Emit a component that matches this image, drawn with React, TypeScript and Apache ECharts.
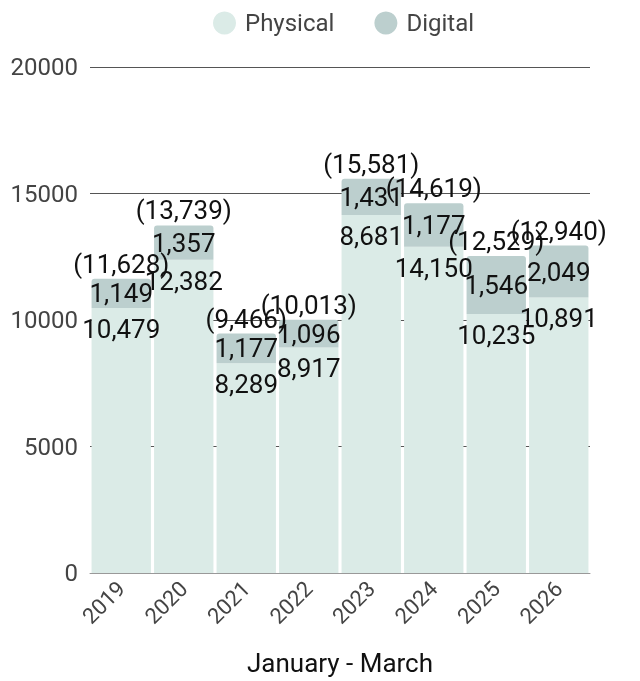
import React, { useEffect, useRef } from "react";
import * as echarts from "echarts";

const years = ["2019", "2020", "2021", "2022", "2023", "2024", "2025", "2026"];
const physical = [10479, 12382, 8289, 8917, 14150, 12900, 10235, 10891];
const digital = [1149, 1357, 1177, 1096, 1431, 1719, 2294, 2049];
const physicalLabels = ["10,479", "12,382", "8,289", "8,917", "8,681", "14,150", "10,235", "10,891"];
const digitalLabels = ["1,149", "1,357", "1,177", "1,096", "1,431", "1,177", "1,546", "2,049"];
const yTicks = { min: 0, max: 20000, interval: 5000 };

const fmt = (n: number) => n.toLocaleString("en-US");

export default function App() {
  const ref = useRef<HTMLDivElement>(null);
  useEffect(() => {
    if (!ref.current) return;
    const chart = echarts.init(ref.current, undefined, { renderer: "svg" });
    const totals = physical.map((p, i) => p + digital[i]);
    const font = "Roboto, sans-serif";
    chart.setOption({
      animation: false,
      textStyle: { fontFamily: font },
      legend: {
        data: ["Physical", "Digital"],
        top: 6,
        left: 208,
        icon: "circle",
        itemWidth: 23,
        itemHeight: 23,
        itemGap: 40,
        textStyle: { fontSize: 24, color: "#444", fontFamily: font, padding: [0, 0, 0, 4] },
      },
      grid: { left: 90, right: 50, top: 67, bottom: 94, containLabel: false },
      xAxis: {
        type: "category",
        data: years,
        name: "January - March",
        nameLocation: "middle",
        nameGap: 77,
        nameTextStyle: { fontSize: 26, color: "#111", fontFamily: font },
        axisTick: { show: false },
        axisLine: { show: true, lineStyle: { color: "#999", width: 1 } },
        axisLabel: { rotate: 45, fontSize: 22, color: "#444", margin: 12, fontFamily: font },
      },
      yAxis: {
        type: "value",
        min: yTicks.min,
        max: yTicks.max,
        interval: yTicks.interval,
        axisLine: { show: false },
        axisTick: { show: false },
        axisLabel: {
          fontSize: 24,
          color: "#444",
          margin: 12,
          fontFamily: font,
          formatter: (v: number) => String(v),
        },
        splitLine: { show: true, lineStyle: { color: "#555", width: 1 } },
      },
      series: [
        {
          name: "Physical",
          type: "bar",
          stack: "s",
          barCategoryGap: "5%",
          data: physical,
          itemStyle: { color: "#dbebe7" },
          label: {
            show: true,
            position: "insideTop",
            distance: 8,
            fontSize: 26,
            color: "#111",
            fontFamily: font,
            formatter: (p: any) => physicalLabels[p.dataIndex],
          },
        },
        {
          name: "Digital",
          type: "bar",
          stack: "s",
          data: digital,
          itemStyle: { color: "#bccfce", borderRadius: [3, 3, 0, 0] },
          label: {
            show: true,
            position: "inside",
            fontSize: 26,
            color: "#111",
            fontFamily: font,
            formatter: (p: any) => digitalLabels[p.dataIndex],
          },
        },
        {
          name: "Total",
          type: "bar",
          stack: "s",
          data: totals.map(() => 0),
          itemStyle: { color: "transparent" },
          label: {
            show: true,
            position: "top",
            distance: 2,
            fontSize: 26,
            color: "#111",
            fontFamily: font,
            formatter: (p: any) => "(" + fmt(totals[p.dataIndex]) + ")",
          },
        },
      ],
    });
    return () => chart.dispose();
  }, []);
  return (
    <div
      ref={ref}
      style={{ position: "fixed", left: 0, top: 0, width: 640, height: 681 }}
    />
  );
}
